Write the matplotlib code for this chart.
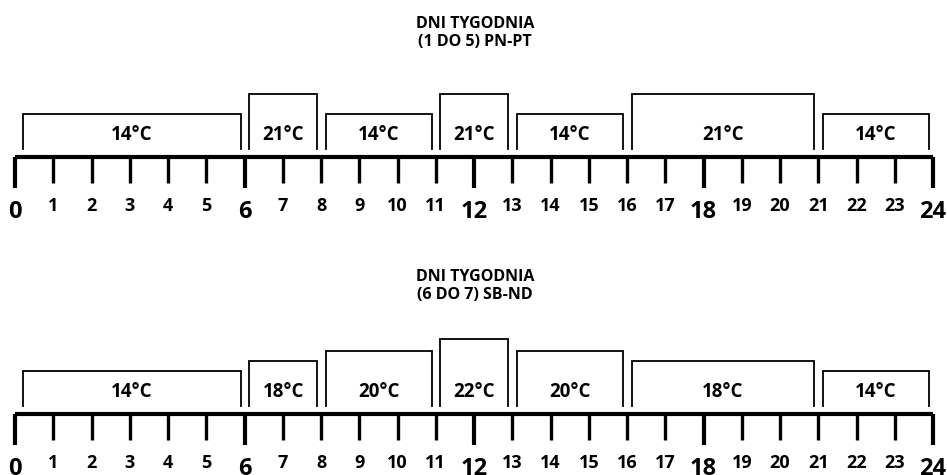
import matplotlib.pyplot as plt

# schedule data
hours = list(range(0, 25))
major_hours = [0, 6, 12, 18, 24]

title_line1 = "DNI TYGODNIA"
title_line2 = ["(1 DO 5) PN-PT", "(6 DO 7) SB-ND"]

weekday_starts = [0, 6, 8, 11, 13, 16, 21]
weekday_ends = [6, 8, 11, 13, 16, 21, 24]
weekday_temps = [14, 21, 14, 21, 14, 21, 14]

weekend_starts = [0, 6, 8, 11, 13, 16, 21]
weekend_ends = [6, 8, 11, 13, 16, 21, 24]
weekend_temps = [14, 18, 20, 22, 20, 18, 14]

# box height (px) per temperature level
box_height = {14: 35, 18: 45, 20: 55, 21: 55, 22: 67}

FONT = "Open Sans"


def draw_panel(ax, base, title_y, title2, starts, ends, temps):
    # title, two lines
    ax.text(12.02, title_y, title_line1, ha="center", va="baseline",
            fontsize=11.5, fontweight="bold", family=FONT)
    ax.text(12.02, title_y + 18, title2, ha="center", va="baseline",
            fontsize=11.5, fontweight="bold", family=FONT)
    # boxes (open at the bottom)
    for i, (s, e, t) in enumerate(zip(starts, ends, temps)):
        left = s + (0.2 if i == 0 else 0.12)
        right = e - 0.1
        bottom = base - 8
        top = bottom - box_height[t]
        ax.plot([left, left, right, right], [bottom, top, top, bottom],
                color="black", lw=1.3, solid_joinstyle="miter")
        ax.text((left + right) / 2, base - 17, "%d°C" % t, ha="center",
                va="baseline", fontsize=13.5, fontweight="bold",
                family=FONT)
    # axis line
    ax.plot([0, 24], [base, base], color="black", lw=3, solid_capstyle="butt")
    for h in hours:
        if h in major_hours:
            ax.plot([h, h], [base, base + 31], color="black", lw=3,
                    solid_capstyle="butt")
            ax.text(h, base + 61, str(h), ha="center", va="baseline",
                    fontsize=17, fontweight="bold", family=FONT)
        else:
            ax.plot([h, h], [base, base + 26], color="black", lw=2.4,
                    solid_capstyle="butt")
            ax.text(h, base + 54, str(h), ha="center", va="baseline",
                    fontsize=13, fontweight="bold", family=FONT)


fig = plt.figure(figsize=(9.47, 4.75), dpi=100)
ax = fig.add_axes([0, 0, 1, 1])
ax.set_xlim(-15 / 38.25, (947 - 15) / 38.25)
ax.set_ylim(475, 0)
ax.axis("off")

draw_panel(ax, 157, 28, title_line2[0], weekday_starts, weekday_ends,
           weekday_temps)
draw_panel(ax, 414, 281, title_line2[1], weekend_starts, weekend_ends,
           weekend_temps)

fig.savefig("out.png", dpi=100)
